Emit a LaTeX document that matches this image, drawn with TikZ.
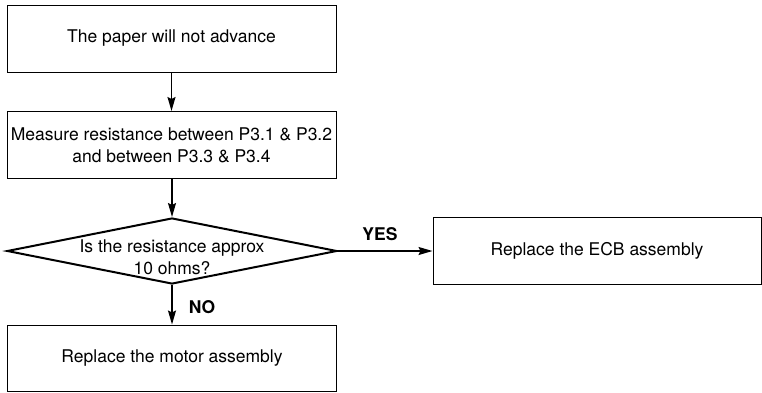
\documentclass[tikz,border=0pt]{standalone}
\usepackage{fontspec}
\setmainfont{TeX Gyre Heros}
\usetikzlibrary{shapes.geometric,arrows.meta}

\begin{document}
\begin{tikzpicture}[x=1pt,y=-1pt,
    every node/.style={font=\fontsize{17.5}{22}\selectfont},
    box/.style={draw,line width=1pt,minimum width=329pt,minimum height=67pt,inner sep=0pt,align=center},
    decision/.style={draw,diamond,line width=2pt,minimum width=330pt,minimum height=66pt,inner sep=0pt},
    flow/.style={-{Stealth[length=14pt,width=8pt,inset=2pt]},line width=1.5pt},
    answer/.style={font=\fontsize{17.5}{22}\selectfont\bfseries}]
    \useasboundingbox (0,0) rectangle (762,392);
    \node[box] (start) at (171.5,38.5) {The paper will not advance};
    \node[box] (measure) at (171.5,145) {Measure resistance between P3.1 \& P3.2\\and between P3.3 \& P3.4};
    \node[decision] (check) at (172,251) {};
    \node[align=center] (checktext) at (172,257) {Is the resistance approx\\10 ohms?};
    \node[box,minimum width=328pt] (ecb) at (597,251) {Replace the ECB assembly};
    \node[box,minimum height=66pt] (motor) at (172,358) {Replace the motor assembly};
    \draw[flow] (start) -- (measure);
    \draw[flow] (measure.south -| check.north) -- (check);
    \draw[flow] (check) -- (ecb);
    \draw[flow] (check) -- (motor);
    \node[answer] (yes) at (380,234) {YES};
    \node[answer] (no) at (202,307) {NO};
\end{tikzpicture}
\end{document}
